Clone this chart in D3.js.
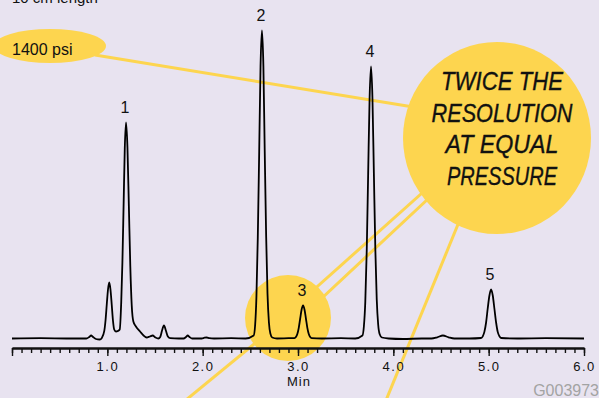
<!DOCTYPE html>
<html><head><meta charset="utf-8">
<script src="https://cdn.jsdelivr.net/npm/d3@7"></script>
<style>
html,body{margin:0;padding:0;background:#E8E3F0;}
svg{display:block;}
text{font-family:"Liberation Sans",Arial,Helvetica,sans-serif;}
</style></head>
<body>
<svg id="c" width="599" height="398"></svg>
<script>
// ---- data ----
const traceTime = [0.00,0.30,0.60,0.78,0.81,0.83,0.85,0.88,0.92,0.942,0.968,0.981,0.994,1.007,1.020,1.033,1.046,1.059,1.072,1.09,1.11,1.13,1.146,1.158,1.171,1.183,1.196,1.211,1.226,1.241,1.256,1.273,1.30,1.343,1.38,1.413,1.445,1.476,1.505,1.535,1.555,1.574,1.594,1.614,1.635,1.66,1.75,1.80,1.825,1.843,1.862,1.89,1.99,2.02,2.042,2.07,2.12,2.30,2.45,2.535,2.55,2.564,2.578,2.593,2.607,2.622,2.637,2.651,2.666,2.680,2.695,2.71,2.73,2.78,2.90,2.963,2.978,2.993,3.008,3.023,3.038,3.053,3.068,3.083,3.098,3.113,3.128,3.143,3.25,3.45,3.60,3.676,3.691,3.706,3.721,3.736,3.751,3.766,3.781,3.796,3.811,3.826,3.841,3.856,3.88,3.95,4.10,4.30,4.40,4.46,4.52,4.58,4.64,4.80,4.92,4.938,4.955,4.973,4.99,5.008,5.025,5.043,5.06,5.078,5.095,5.113,5.13,5.30,5.60,6.00];
const traceSignal = [0,0.3,0,0,1.5,3,1.5,-0.5,-1,0.6,7.6,18,34,49,56,49,34,18,9,7,7.5,9,37,76,135,190,216,191,132,72,33,17,12,7,3,1,2,3,1,0,1.5,8,13,8,2,0.3,0,0,1.5,3,1.5,0,0,0.8,1,0.4,0,0.3,0,3,13,42,100,187,272,308,272,187,102,45,16,5,1,0,0.3,0.4,1.5,4.5,10.7,20,29,33,29,20,10.7,4.5,1.5,0.4,0,0.3,0,3,12,37,88,165,240,272,240,165,90,39,14,4.5,1,0,-0.5,0,0,1.2,3,1.2,0,0,0.5,2.2,6.6,16,30,43,49,43,30,16,6.6,2.2,0.5,0,0.3,0];
const peakLabels = ["1","2","3","4","5"];
const peakTimes = [1.196, 2.622, 3.053, 3.766, 5.025];
const peakHeights = [216, 308, 33, 272, 49];
const majorTicks = [0,1,2,3,4,5,6];
const majorTickLabels = ["","1.0","2.0","3.0","4.0","5.0","6.0"];
const minorTicks = d3.range(0, 61).map(i => i / 10);
const xTitle = "Min";
const topNote = "10 cm length";
const pressureLabel = "1400 psi";
const calloutLines = ["TWICE THE","RESOLUTION","AT EQUAL","PRESSURE"];
const figureId = "G003973";

// ---- drawing ----
const svg = d3.select("#c");
const YEL = "#FDD54F";
const x = d3.scaleLinear().domain([0, 6]).range([12, 584]);
const y = d3.scaleLinear().domain([0, 320]).range([338.5, 18.5]);
const axisY = 348;

// callout connector lines (under shapes)
const lines = [
  [[95,55],[450,113]],
  [[300,302],[440,177]],
  [[306,313],[444,184]],
  [[470,195],[380,415]],
  [[270,331],[175,409]]
];
svg.selectAll("line.c").data(lines).join("line")
  .attr("x1", d => d[0][0]).attr("y1", d => d[0][1])
  .attr("x2", d => d[1][0]).attr("y2", d => d[1][1])
  .attr("stroke", YEL).attr("stroke-width", 3);

svg.append("ellipse").attr("cx", 50).attr("cy", 46).attr("rx", 56).attr("ry", 17).attr("fill", YEL);
svg.append("ellipse").attr("cx", 497).attr("cy", 138).attr("rx", 94).attr("ry", 96).attr("fill", YEL);
svg.append("circle").attr("cx", 288).attr("cy", 318).attr("r", 43).attr("fill", YEL);

// text
svg.append("text").attr("x", 12).attr("y", 3).attr("font-size", 15).attr("fill", "#111").text(topNote);
svg.append("text").attr("x", 12).attr("y", 55).attr("font-size", 16)
  .attr("fill", "#111").text(pressureLabel);

const lineBase = [90, 121.5, 153, 184.5];
const lineLen = [122, 141, 113, 110];
svg.selectAll("text.callout").data(calloutLines).join("text")
  .attr("class", "callout")
  .attr("x", 502).attr("y", (d, i) => lineBase[i])
  .attr("text-anchor", "middle")
  .attr("font-size", 25).attr("font-style", "italic")
  .attr("textLength", (d, i) => lineLen[i]).attr("lengthAdjust", "spacingAndGlyphs")
  .attr("fill", "#111").attr("stroke", "#111").attr("stroke-width", 0.35)
  .style("font-family", "'Liberation Sans',Arial,sans-serif")
  .text(d => d);

// axes
const minorAxis = d3.axisBottom(x).tickValues(minorTicks).tickSize(5).tickSizeOuter(0).tickFormat("");
const majorAxis = d3.axisBottom(x).tickValues(majorTicks).tickSize(8).tickSizeOuter(0)
  .tickFormat((d, i) => majorTickLabels[i]);
const gMin = svg.append("g").attr("transform", `translate(0,${axisY})`).call(minorAxis);
const gMaj = svg.append("g").attr("transform", `translate(0,${axisY})`).call(majorAxis);
[gMin, gMaj].forEach(g => {
  g.select(".domain").attr("stroke", "#111").attr("stroke-width", 2);
  g.selectAll(".tick line").attr("stroke", "#111").attr("stroke-width", 1.4);
});
gMaj.selectAll(".tick text").attr("y", 14).attr("font-size", 13).attr("letter-spacing", "1.5px")
  .attr("fill", "#111").style("font-family", "'Liberation Sans',Arial,sans-serif");
svg.append("text").attr("x", x(3) + 1).attr("y", 386).attr("text-anchor", "middle")
  .attr("font-size", 13).attr("letter-spacing", "1px").attr("fill", "#111").text(xTitle);

// trace
const pts = traceTime.map((t, i) => [t, traceSignal[i]]);
svg.append("path").datum(pts)
  .attr("d", d3.line().x(d => x(d[0])).y(d => y(d[1])).curve(d3.curveMonotoneX))
  .attr("fill", "none").attr("stroke", "#000").attr("stroke-width", 1.8).attr("stroke-linejoin", "round");

// peak labels
svg.selectAll("text.pk").data(peakLabels).join("text")
  .attr("class", "pk")
  .attr("x", (d, i) => x(peakTimes[i]) - 1)
  .attr("y", (d, i) => y(peakHeights[i]) - 10)
  .attr("text-anchor", "middle").attr("font-size", 16).attr("fill", "#111")
  .text(d => d);

svg.append("text").attr("x", 599).attr("y", 396).attr("text-anchor", "end")
  .attr("font-size", 16).attr("fill", "#A3A3A3").text(figureId);
</script>
</body></html>
